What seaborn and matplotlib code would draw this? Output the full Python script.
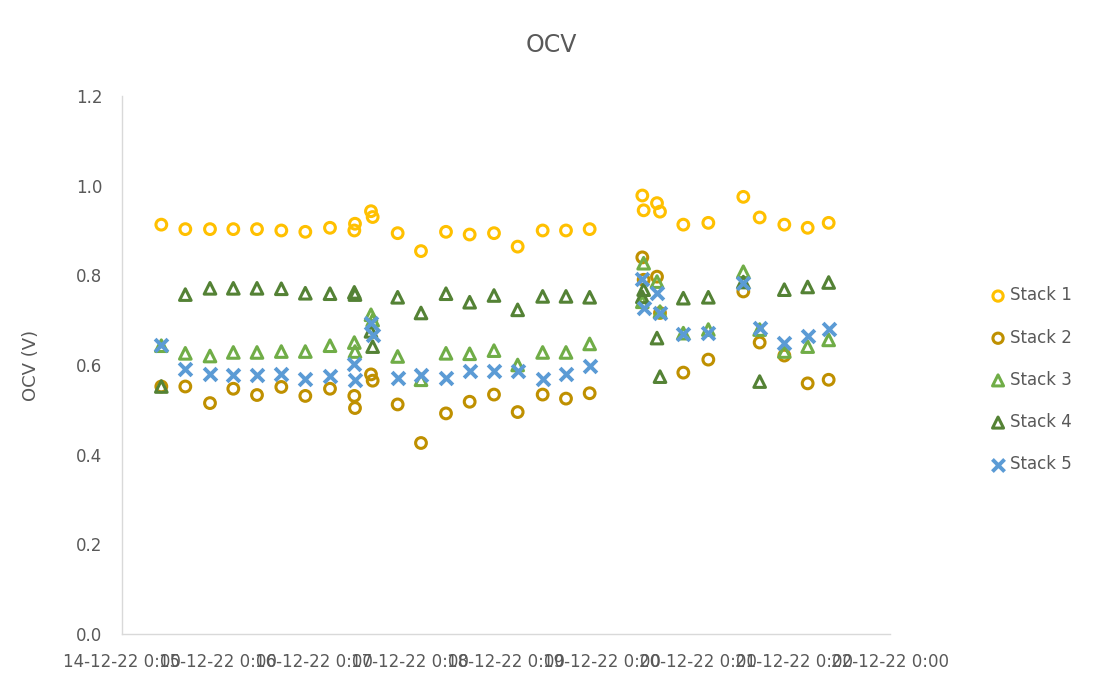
import pandas as pd
import matplotlib
matplotlib.use("Agg")
import matplotlib.pyplot as plt
import seaborn as sns

# tiempos de medicion
times = ['2022-12-14 09:50', '2022-12-14 15:50', '2022-12-14 22:00',
         '2022-12-15 03:50', '2022-12-15 09:45', '2022-12-15 15:50', '2022-12-15 21:50',
         '2022-12-16 04:00', '2022-12-16 10:05', '2022-12-16 10:15',
         '2022-12-16 14:15', '2022-12-16 14:40', '2022-12-16 20:55',
         '2022-12-17 02:45', '2022-12-17 09:00', '2022-12-17 14:55', '2022-12-17 21:00',
         '2022-12-18 02:55', '2022-12-18 09:10', '2022-12-18 15:00', '2022-12-18 20:55',
         '2022-12-19 10:05', '2022-12-19 10:25', '2022-12-19 13:45', '2022-12-19 14:30',
         '2022-12-19 20:20', '2022-12-20 02:35', '2022-12-20 11:20', '2022-12-20 15:25',
         '2022-12-20 21:35', '2022-12-21 03:25', '2022-12-21 08:40']

stack1 = [0.913, 0.903, 0.903, 0.903, 0.903, 0.900, 0.897, 0.906, 0.900, 0.915, 0.943,
          0.930, 0.894, 0.854, 0.897, 0.891, 0.894, 0.864, 0.900, 0.900, 0.903, 0.978,
          0.945, 0.961, 0.942, 0.913, 0.917, 0.975, 0.929, 0.913, 0.906, 0.917]
stack2 = [0.552, 0.552, 0.515, 0.547, 0.533, 0.551, 0.531, 0.547, 0.531, 0.504, 0.579,
          0.565, 0.512, 0.426, 0.492, 0.518, 0.534, 0.495, 0.534, 0.525, 0.537, 0.840,
          0.790, 0.797, 0.716, 0.583, 0.612, 0.764, 0.650, 0.621, 0.559, 0.567]
stack3 = [0.643, 0.626, 0.620, 0.628, 0.628, 0.630, 0.630, 0.643, 0.650, 0.630, 0.712,
          0.700, 0.619, 0.567, 0.626, 0.625, 0.632, 0.600, 0.628, 0.628, 0.647, 0.741,
          0.827, 0.786, 0.719, 0.671, 0.679, 0.808, 0.679, 0.630, 0.641, 0.656]
stack4 = [0.552, 0.757, 0.771, 0.771, 0.771, 0.770, 0.760, 0.759, 0.762, 0.757, 0.675,
          0.641, 0.751, 0.716, 0.759, 0.740, 0.755, 0.723, 0.753, 0.753, 0.751, 0.752,
          0.768, 0.660, 0.574, 0.749, 0.751, 0.785, 0.563, 0.768, 0.774, 0.784]
stack5 = [0.644, 0.591, 0.580, 0.577, 0.577, 0.580, 0.569, 0.576, 0.603, 0.567, 0.694,
          0.667, 0.572, 0.578, 0.572, 0.586, 0.586, 0.586, 0.569, 0.580, 0.597, 0.791,
          0.727, 0.760, 0.716, 0.670, 0.672, 0.782, 0.682, 0.649, 0.664, 0.680]

names = ['Stack 1', 'Stack 2', 'Stack 3', 'Stack 4', 'Stack 5']
colors = ['#FFC000', '#BF9000', '#70AD47', '#548235', '#5B9BD5']
markers = ['o', 'o', '^', '^', 'x']

tick_dates = ['2022-12-14', '2022-12-15', '2022-12-16', '2022-12-17', '2022-12-18',
              '2022-12-19', '2022-12-20', '2022-12-21', '2022-12-22']
tick_labels = ['14-12-22 0:00', '15-12-22 0:00', '16-12-22 0:00', '17-12-22 0:00',
               '18-12-22 0:00', '19-12-22 0:00', '20-12-22 0:00', '21-12-22 0:00',
               '22-12-22 0:00']
y_ticks = [0.0, 0.2, 0.4, 0.6, 0.8, 1.0, 1.2]

sns.set_style("white")
plt.rcParams['font.family'] = ['DejaVu Sans']
gris = '#595959'
linea = '#D9D9D9'

t = pd.to_datetime(times)
fig = plt.figure(figsize=(10.97, 6.88), dpi=100)
ax = fig.add_axes([0.1112, 0.0785, 0.7001, 0.782])

for name, vals, c, m in zip(names, [stack1, stack2, stack3, stack4, stack5], colors, markers):
    if m == 'x':
        sns.scatterplot(x=t, y=vals, marker=m, s=85, color=c, linewidth=2.8,
                        label=name, ax=ax, zorder=3)
    else:
        sns.scatterplot(x=t, y=vals, marker=m, s=60 if m == 'o' else 70, color=c,
                        facecolor='none', edgecolor=c, linewidth=2.2,
                        label=name, ax=ax, zorder=3)

ax.set_xlim(pd.to_datetime(tick_dates[0]), pd.to_datetime(tick_dates[-1]))
ax.set_ylim(0, 1.2)
ax.set_xticks(pd.to_datetime(tick_dates))
ax.set_xticklabels(tick_labels)
ax.set_yticks(y_ticks)
ax.set_yticklabels([f'{v:.1f}' for v in y_ticks])
ax.tick_params(axis='both', colors=linea, labelcolor=gris, labelsize=12,
               length=5, width=1, direction='out')
ax.tick_params(axis='x', pad=9)
ax.tick_params(axis='y', pad=9)
sns.despine(ax=ax)
for s in ['left', 'bottom']:
    ax.spines[s].set_color(linea)
    ax.spines[s].set_linewidth(1)

ax.set_xlabel('')
ax.set_ylabel('OCV (V)', color=gris, fontsize=13, labelpad=26)
fig.suptitle('OCV', x=0.503, y=0.952, color=gris, fontsize=17)

ax.get_legend().remove()
h, l = ax.get_legend_handles_labels()
leg = fig.legend(h, l, loc='center left', bbox_to_anchor=(0.887, 0.448), frameon=False,
                 fontsize=12, labelspacing=1.45, handletextpad=0.1, handlelength=1.2,
                 markerscale=0.95)
for txt in leg.get_texts():
    txt.set_color(gris)

fig.savefig('out.png', dpi=100, facecolor='white')
